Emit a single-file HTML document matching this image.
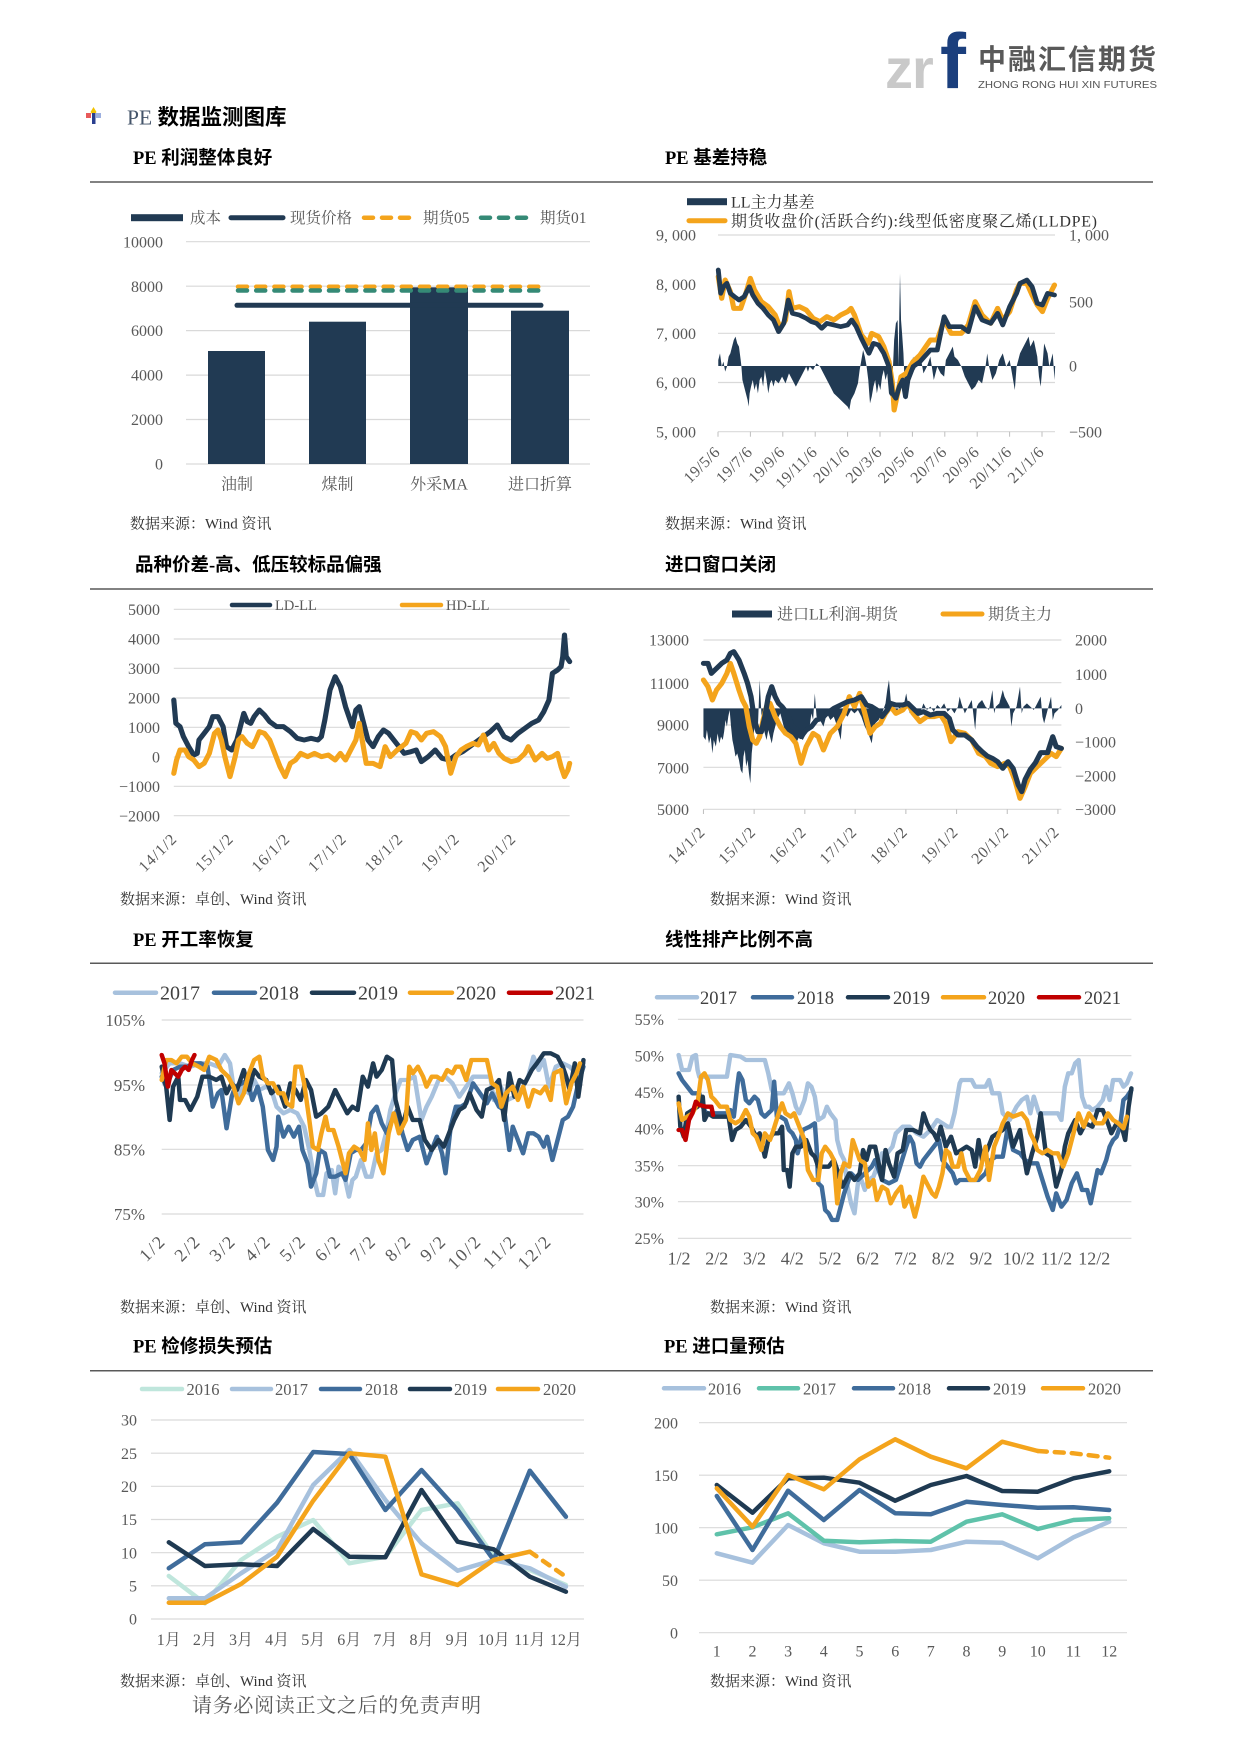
<!DOCTYPE html>
<html><head><meta charset="utf-8">
<style>
html,body{margin:0;padding:0;background:#fff;}
svg{display:block;}
.t{font-family:"Liberation Serif","Noto Serif CJK SC",serif;fill:#595959;}
.h{font-family:"Liberation Serif","Noto Sans CJK SC",sans-serif;font-weight:bold;fill:#000;font-size:18.5px;}
.src{font-family:"Liberation Serif","Noto Serif CJK SC",serif;fill:#333;font-size:15px;}
.g line{stroke:#d9d9d9;stroke-width:1.2;}
.gs line{stroke:#d9d9d9;stroke-width:3.5;}
.ln{fill:none;stroke-linejoin:round;stroke-linecap:round;}
</style></head>
<body>
<svg width="1240" height="1753" viewBox="0 0 1240 1753" xmlns="http://www.w3.org/2000/svg">
<rect width="1240" height="1753" fill="#fff"/>

<!-- Logo -->
<text x="885" y="88" font-family="Liberation Sans,sans-serif" font-weight="bold" font-size="56" fill="#c9c9c9" letter-spacing="-1">zr</text>
<text x="940" y="88" font-family="Liberation Sans,sans-serif" font-weight="bold" font-size="78" fill="#1b3f7d">f</text>
<text x="978" y="69" font-family="'Noto Sans CJK SC',sans-serif" font-weight="bold" font-size="28" fill="#595959" letter-spacing="2">中融汇信期货</text>
<text x="978" y="88" font-family="'Liberation Sans',sans-serif" font-size="10.5" fill="#555" textLength="179" lengthAdjust="spacingAndGlyphs">ZHONG RONG HUI XIN FUTURES</text>

<!-- Header -->
<path d="M93.5 107 L96.5 112 L93.5 116 L90.5 112Z" fill="#f2c200"/>
<rect x="86" y="113" width="5" height="5" fill="#e85a5a"/>
<rect x="96" y="113" width="5" height="5" fill="#9db0e0"/>
<rect x="92" y="113" width="3.5" height="11" fill="#2a3f8f"/>
<text x="127" y="124.5" font-size="21.5"><tspan font-family="'Liberation Serif',serif" fill="#44546a">PE</tspan><tspan font-family="'Liberation Serif','Noto Sans CJK SC',sans-serif" font-weight="bold" fill="#000"> 数据监测图库</tspan></text>

<!-- Section titles & rules -->
<text class="h" x="133" y="164">PE 利润整体良好</text>
<text class="h" x="665" y="164">PE 基差持稳</text>
<line x1="90" y1="182" x2="1153" y2="182" stroke="#595959" stroke-width="1.5"/>
<text class="h" x="135" y="571">品种价差-高、低压较标品偏强</text>
<text class="h" x="665" y="571">进口窗口关闭</text>
<line x1="90" y1="589" x2="1153" y2="589" stroke="#595959" stroke-width="1.5"/>
<text class="h" x="133" y="946">PE 开工率恢复</text>
<text class="h" x="665" y="946">线性排产比例不高</text>
<line x1="90" y1="963.3" x2="1153" y2="963.3" stroke="#595959" stroke-width="1.5"/>
<text class="h" x="133" y="1352.5">PE 检修损失预估</text>
<text class="h" x="664" y="1352.5">PE 进口量预估</text>
<line x1="90" y1="1370.7" x2="1153" y2="1370.7" stroke="#595959" stroke-width="1.5"/>

<!-- ============ Chart 1: bar ============ -->
<g class="g">
<line x1="186" y1="241.7" x2="590" y2="241.7"/><line x1="186" y1="286.2" x2="590" y2="286.2"/>
<line x1="186" y1="330.6" x2="590" y2="330.6"/><line x1="186" y1="375.1" x2="590" y2="375.1"/>
<line x1="186" y1="419.5" x2="590" y2="419.5"/><line x1="186" y1="464" x2="590" y2="464"/>
</g>
<g class="t" font-size="16" text-anchor="end">
<text x="163" y="247.3">10000</text><text x="163" y="291.8">8000</text><text x="163" y="336.2">6000</text>
<text x="163" y="380.7">4000</text><text x="163" y="425.1">2000</text><text x="163" y="469.6">0</text>
</g>
<g fill="#213a53">
<rect x="208" y="351" width="57" height="113"/>
<rect x="309" y="321.7" width="57" height="142.3"/>
<rect x="410" y="287.3" width="58" height="176.7"/>
<rect x="511" y="310.7" width="58" height="153.3"/>
</g>
<line class="ln" x1="237" y1="305.3" x2="541" y2="305.3" stroke="#213a53" stroke-width="5"/>
<line class="ln" x1="238" y1="286.7" x2="541" y2="286.7" stroke="#f4a41c" stroke-width="4.5" stroke-dasharray="9 9.2"/>
<line class="ln" x1="238" y1="290.5" x2="541" y2="290.5" stroke="#358a76" stroke-width="4.5" stroke-dasharray="9 9.2"/>
<g class="t" font-size="16" text-anchor="middle">
<text x="237" y="489.6">油制</text><text x="337.5" y="489.6">煤制</text><text x="439" y="489.6">外采MA</text><text x="540" y="489.6">进口折算</text>
</g>
<rect x="131" y="214.2" width="52" height="7" fill="#213a53"/>
<line class="ln" x1="231" y1="217.7" x2="283" y2="217.7" stroke="#213a53" stroke-width="5"/>
<line class="ln" x1="364" y1="217.7" x2="412" y2="217.7" stroke="#f4a41c" stroke-width="4.5" stroke-dasharray="9 9"/>
<line class="ln" x1="481" y1="217.7" x2="528" y2="217.7" stroke="#358a76" stroke-width="4.5" stroke-dasharray="9 9"/>
<g class="t" font-size="15.5">
<text x="190" y="223.2">成本</text><text x="290" y="223.2">现货价格</text><text x="423" y="223.2">期货05</text><text x="540" y="223.2">期货01</text>
</g>
<text class="src" x="130" y="528.5">数据来源：Wind 资讯</text>

<!-- ============ Chart 2: basis ============ -->
<g class="g">
<line x1="718" y1="235" x2="1055" y2="235"/><line x1="718" y1="284.2" x2="1055" y2="284.2"/>
<line x1="718" y1="333.3" x2="1055" y2="333.3"/><line x1="718" y1="382.5" x2="1055" y2="382.5"/>
<line x1="718" y1="431.7" x2="1055" y2="431.7"/>
</g>
<g stroke="#bfbfbf" stroke-width="1">
<line x1="718" y1="431.7" x2="718" y2="436.7"/><line x1="750.4" y1="431.7" x2="750.4" y2="436.7"/><line x1="782.8" y1="431.7" x2="782.8" y2="436.7"/>
<line x1="815.2" y1="431.7" x2="815.2" y2="436.7"/><line x1="847.6" y1="431.7" x2="847.6" y2="436.7"/><line x1="880" y1="431.7" x2="880" y2="436.7"/>
<line x1="912.4" y1="431.7" x2="912.4" y2="436.7"/><line x1="944.8" y1="431.7" x2="944.8" y2="436.7"/><line x1="977.2" y1="431.7" x2="977.2" y2="436.7"/>
<line x1="1009.6" y1="431.7" x2="1009.6" y2="436.7"/><line x1="1042" y1="431.7" x2="1042" y2="436.7"/>
</g>
<g class="t" font-size="16" text-anchor="end">
<text x="696" y="240.6">9, 000</text><text x="696" y="289.9">8, 000</text><text x="696" y="338.9">7, 000</text>
<text x="696" y="387.9">6, 000</text><text x="696" y="437.3">5, 000</text>
</g>
<g class="t" font-size="16">
<text x="1069" y="240.6">1, 000</text><text x="1069" y="307.3">500</text><text x="1069" y="371.6">0</text><text x="1069" y="437.3">−500</text>
</g>
<g class="t" font-size="16" text-anchor="end" letter-spacing="0.5">
<text transform="translate(721,453) rotate(-45)">19/5/6</text>
<text transform="translate(753.4,453) rotate(-45)">19/7/6</text>
<text transform="translate(785.8,453) rotate(-45)">19/9/6</text>
<text transform="translate(818.2,453) rotate(-45)">19/11/6</text>
<text transform="translate(850.6,453) rotate(-45)">20/1/6</text>
<text transform="translate(883,453) rotate(-45)">20/3/6</text>
<text transform="translate(915.4,453) rotate(-45)">20/5/6</text>
<text transform="translate(947.8,453) rotate(-45)">20/7/6</text>
<text transform="translate(980.2,453) rotate(-45)">20/9/6</text>
<text transform="translate(1012.6,453) rotate(-45)">20/11/6</text>
<text transform="translate(1045,453) rotate(-45)">21/1/6</text>
</g>
<g transform="translate(620,180) scale(0.34483,0.33333)">
<polygon fill="#213a53" points="285,558 285,540 290,520 295,560 300,545 305,575 310,560 315,530 320,520 325,500 330,480 335,470 340,490 345,500 350,540 352,558 355,600 360,620 365,640 370,660 373,680 376,640 380,620 385,600 390,630 395,610 400,640 405,600 410,590 415,620 420,570 425,600 430,640 435,610 440,600 445,620 450,600 460,610 470,590 480,610 490,580 500,600 510,620 520,600 530,580 540,560 545,575 550,560 560,570 570,550 580,560 590,580 600,600 610,620 620,640 630,650 640,660 650,670 660,680 665,690 670,660 680,640 690,610 695,570 700,540 705,510 710,530 715,558 720,600 725,670 730,650 735,620 740,600 745,640 750,610 755,630 760,590 765,570 770,600 775,580 780,640 785,650 790,600 795,480 800,430 805,420 808,560 810,400 812,280 815,420 818,460 822,520 825,600 828,660 832,640 835,580 840,590 845,560 850,530 855,570 860,550 870,520 880,580 890,560 900,530 910,600 920,560 930,580 940,590 945,540 955,520 965,500 970,530 980,540 990,560 1000,590 1010,610 1020,630 1030,620 1040,600 1050,610 1060,560 1065,520 1070,558 1080,600 1090,580 1100,540 1110,520 1120,560 1130,540 1140,600 1145,630 1150,560 1160,520 1170,500 1180,480 1185,470 1190,500 1200,480 1210,530 1215,590 1220,620 1225,560 1230,490 1240,520 1245,560 1250,540 1255,520 1260,600 1262,558"/>
<polyline class="ln" stroke="#f4a41c" stroke-width="15" points="285,290 295,355 305,300 320,335 330,385 350,385 365,340 378,295 390,330 410,365 430,380 450,405 465,445 480,420 490,335 500,385 520,380 540,390 560,415 580,425 600,410 620,420 640,405 660,395 670,385 680,405 700,465 720,490 730,460 750,470 765,500 780,545 790,610 795,690 805,640 815,590 830,580 850,545 870,525 900,480 920,480 940,420 960,460 990,460 1010,435 1030,365 1050,405 1075,430 1095,385 1110,420 1130,395 1150,330 1160,310 1180,310 1195,345 1210,375 1225,395 1240,355 1260,315"/>
<polyline class="ln" stroke="#213a53" stroke-width="14" points="285,270 292,340 300,320 310,310 320,340 332,350 345,360 360,350 375,320 385,345 400,370 415,385 430,405 445,420 460,455 475,430 488,360 500,400 520,405 540,415 555,425 570,430 585,445 600,430 620,435 640,440 660,435 672,420 685,440 700,475 712,500 722,520 735,490 750,495 765,520 780,560 790,640 800,655 810,620 820,600 828,650 835,600 850,560 870,545 900,510 920,510 940,410 955,440 970,440 990,440 1010,455 1030,380 1050,420 1075,430 1095,400 1110,435 1130,380 1150,340 1160,310 1180,300 1195,320 1210,370 1225,375 1240,340 1260,345"/>
</g>
<rect x="687" y="198.2" width="40" height="7" fill="#213a53"/>
<line class="ln" x1="689" y1="220.7" x2="725" y2="220.7" stroke="#f4a41c" stroke-width="5"/>
<g class="t" font-size="16" style="fill:#333">
<text x="731" y="207.3">LL主力基差</text>
<text x="731" y="226.3" textLength="366" lengthAdjust="spacing">期货收盘价(活跃合约):线型低密度聚乙烯(LLDPE)</text>
</g>
<text class="src" x="665" y="528.5">数据来源：Wind 资讯</text>

<!-- ============ Chart 3: spread ============ -->
<g transform="translate(80,540) scale(0.34483,0.33333)">
<g class="gs">
<line x1="272" y1="208" x2="1420" y2="208"/><line x1="272" y1="297" x2="1420" y2="297"/>
<line x1="272" y1="385" x2="1420" y2="385"/><line x1="272" y1="474" x2="1420" y2="474"/>
<line x1="272" y1="562" x2="1420" y2="562"/><line x1="272" y1="651" x2="1420" y2="651"/>
<line x1="272" y1="739" x2="1420" y2="739"/><line x1="272" y1="827" x2="1420" y2="827"/>
</g>
<polyline class="ln" stroke="#213a53" stroke-width="15" points="272,480 278,550 290,560 300,590 315,620 330,645 340,640 345,600 360,580 375,560 385,530 400,530 415,560 425,620 440,630 455,600 465,560 475,520 485,545 495,550 505,530 520,510 535,525 550,545 570,560 590,560 610,575 630,595 650,600 670,595 690,600 700,590 710,540 725,450 740,410 755,440 770,500 790,560 800,510 810,500 820,540 835,600 850,620 865,590 880,570 895,580 910,600 925,620 940,640 960,635 975,630 990,665 1010,650 1030,630 1050,655 1070,660 1090,645 1110,635 1130,620 1150,605 1170,590 1190,575 1210,555 1230,590 1250,600 1270,580 1290,565 1310,550 1330,540 1345,515 1360,480 1370,400 1385,390 1395,380 1400,350 1405,285 1410,350 1420,365"/>
<polyline class="ln" stroke="#f4a41c" stroke-width="15" points="272,700 280,660 290,630 305,630 315,650 330,660 345,680 360,670 375,640 390,580 400,570 410,600 420,650 435,710 450,650 460,600 470,590 485,610 500,620 510,600 520,575 535,580 550,600 565,640 580,680 595,710 610,670 625,660 640,640 660,650 680,640 700,650 720,645 740,660 755,640 770,660 785,630 800,600 810,550 820,610 830,670 850,670 870,680 885,620 900,650 920,630 945,610 960,575 975,580 990,600 1005,580 1025,575 1045,590 1060,620 1075,700 1090,650 1105,630 1120,620 1140,610 1155,615 1170,585 1185,630 1200,610 1215,640 1230,655 1250,665 1270,660 1290,640 1300,620 1320,660 1340,640 1355,655 1370,650 1385,640 1395,680 1405,710 1415,690 1420,670"/>
</g>
<g class="t" font-size="16" text-anchor="end">
<text x="160" y="614.9">5000</text><text x="160" y="644.6">4000</text><text x="160" y="673.9">3000</text>
<text x="160" y="703.6">2000</text><text x="160" y="732.9">1000</text><text x="160" y="762.6">0</text>
<text x="160" y="791.9">−1000</text><text x="160" y="821.3">−2000</text>
</g>
<g class="t" font-size="16" text-anchor="end" letter-spacing="1">
<text transform="translate(178,839.7) rotate(-45)">14/1/2</text>
<text transform="translate(234.5,839.7) rotate(-45)">15/1/2</text>
<text transform="translate(291,839.7) rotate(-45)">16/1/2</text>
<text transform="translate(347.5,839.7) rotate(-45)">17/1/2</text>
<text transform="translate(404,839.7) rotate(-45)">18/1/2</text>
<text transform="translate(460.5,839.7) rotate(-45)">19/1/2</text>
<text transform="translate(517,839.7) rotate(-45)">20/1/2</text>
</g>
<line class="ln" x1="232" y1="605" x2="270" y2="605" stroke="#213a53" stroke-width="4.5"/>
<line class="ln" x1="402" y1="605" x2="441" y2="605" stroke="#f4a41c" stroke-width="4.5"/>
<g class="t" font-size="14.5"><text x="275" y="610">LD-LL</text><text x="446" y="610">HD-LL</text></g>
<text class="src" x="120" y="904">数据来源：卓创、Wind 资讯</text>

<!-- ============ Chart 4: import window ============ -->
<g transform="translate(620,540) scale(0.34483,0.33333)">
<g class="gs">
<line x1="242" y1="300" x2="1280" y2="300"/><line x1="242" y1="428" x2="1280" y2="428"/>
<line x1="242" y1="555" x2="1280" y2="555"/><line x1="242" y1="682" x2="1280" y2="682"/>
<line x1="242" y1="808" x2="1280" y2="808"/>
</g>
<g stroke="#bfbfbf" stroke-width="3">
<line x1="242" y1="808" x2="242" y2="822"/><line x1="389" y1="808" x2="389" y2="822"/><line x1="536" y1="808" x2="536" y2="822"/>
<line x1="682" y1="808" x2="682" y2="822"/><line x1="829" y1="808" x2="829" y2="822"/><line x1="976" y1="808" x2="976" y2="822"/>
<line x1="1123" y1="808" x2="1123" y2="822"/><line x1="1270" y1="808" x2="1270" y2="822"/>
</g>
<polygon fill="#213a53" points="242,505 242,590 248,600 252,570 258,610 263,590 268,640 272,600 278,620 283,580 288,610 293,590 298,600 302,575 306,540 310,560 314,530 318,510 322,560 326,600 330,620 335,650 340,640 345,660 350,690 355,700 358,650 362,630 366,680 370,660 374,700 378,730 382,640 386,600 390,560 395,540 400,560 405,420 410,520 415,560 420,580 425,600 430,570 435,590 440,610 445,580 450,560 455,540 460,530 465,520 470,540 475,560 480,580 490,590 500,600 510,610 520,590 530,600 540,580 550,560 555,520 560,540 565,460 570,530 580,540 590,560 600,520 610,540 620,530 630,560 640,600 645,540 650,520 660,530 670,510 680,520 690,510 700,530 710,560 720,580 730,610 735,570 740,550 750,540 760,520 770,490 775,450 780,420 785,480 790,500 800,520 810,500 820,510 830,460 840,520 850,500 860,510 870,520 880,490 890,510 900,500 910,515 920,495 930,505 940,490 950,515 960,505 970,520 980,500 985,470 990,490 1000,520 1010,500 1020,480 1030,570 1035,500 1040,490 1050,480 1060,500 1070,510 1080,450 1085,520 1090,500 1100,490 1110,450 1115,470 1120,480 1130,500 1135,560 1140,520 1150,500 1160,440 1165,520 1170,500 1180,490 1190,500 1200,510 1210,490 1220,470 1225,530 1230,550 1240,510 1250,470 1255,540 1260,520 1270,510 1280,495 1280,505"/>
<polyline class="ln" stroke="#f4a41c" stroke-width="15" points="242,420 255,440 268,480 280,450 295,430 310,400 320,370 330,400 345,450 355,480 365,500 375,560 385,600 395,610 405,590 415,540 425,500 435,490 450,530 465,560 480,580 495,590 510,610 525,670 540,620 560,580 575,590 590,630 610,580 630,560 650,520 665,470 680,500 695,460 710,520 725,580 740,560 755,550 770,520 785,500 800,520 820,510 835,490 850,520 870,545 890,530 910,530 930,525 945,550 960,605 980,575 1000,580 1020,600 1040,640 1060,650 1075,670 1095,680 1115,670 1130,680 1145,720 1160,775 1175,740 1190,700 1210,680 1230,660 1250,640 1265,650 1280,625"/>
<polyline class="ln" stroke="#213a53" stroke-width="15" points="242,370 255,370 265,400 280,385 295,370 310,360 320,340 330,335 345,360 360,400 370,430 380,470 390,540 400,575 410,575 420,530 430,470 440,440 450,470 460,490 470,500 485,520 500,560 515,570 525,590 540,570 555,560 570,540 585,535 600,520 620,505 640,495 660,485 680,480 700,470 715,495 730,500 745,510 760,530 775,510 785,490 800,495 820,495 835,490 850,505 865,520 880,515 900,525 920,520 940,520 955,535 965,570 980,585 1000,585 1020,600 1035,620 1050,635 1065,648 1080,655 1095,665 1110,685 1125,665 1140,685 1155,735 1165,755 1175,718 1190,688 1205,668 1220,638 1240,638 1255,590 1265,620 1280,625"/>
</g>
<g class="t" font-size="16" text-anchor="end">
<text x="689" y="645.6">13000</text><text x="689" y="688.9">11000</text><text x="689" y="730.6">9000</text>
<text x="689" y="773.3">7000</text><text x="689" y="814.9">5000</text>
</g>
<g class="t" font-size="16">
<text x="1075" y="645.6">2000</text><text x="1075" y="679.9">1000</text><text x="1075" y="713.9">0</text>
<text x="1075" y="747.3">−1000</text><text x="1075" y="781.3">−2000</text><text x="1075" y="814.9">−3000</text>
</g>
<g class="t" font-size="16" text-anchor="end" letter-spacing="0.7">
<text transform="translate(706,833) rotate(-45)">14/1/2</text>
<text transform="translate(756.6,833) rotate(-45)">15/1/2</text>
<text transform="translate(807.2,833) rotate(-45)">16/1/2</text>
<text transform="translate(857.8,833) rotate(-45)">17/1/2</text>
<text transform="translate(908.4,833) rotate(-45)">18/1/2</text>
<text transform="translate(959,833) rotate(-45)">19/1/2</text>
<text transform="translate(1009.6,833) rotate(-45)">20/1/2</text>
<text transform="translate(1060.2,833) rotate(-45)">21/1/2</text>
</g>
<rect x="732" y="610.5" width="40" height="7" fill="#213a53"/>
<line class="ln" x1="943" y1="614" x2="982" y2="614" stroke="#f4a41c" stroke-width="5"/>
<g class="t" font-size="16"><text x="777" y="619.6">进口LL利润-期货</text><text x="988" y="619.6">期货主力</text></g>
<text class="src" x="710" y="904">数据来源：Wind 资讯</text>

<!-- ============ Chart 5: operating rate ============ -->
<g transform="translate(80,920) scale(0.34483,0.33333)">
<g class="gs">
<line x1="237" y1="300" x2="1460" y2="300"/><line x1="237" y1="495" x2="1460" y2="495"/>
<line x1="237" y1="688" x2="1460" y2="688"/><line x1="237" y1="882" x2="1460" y2="882"/>
</g>
<polyline class="ln" stroke="#a7c1dd" stroke-width="13" points="237,460 260,430 290,430 320,440 350,430 375,430 400,440 420,405 435,430 445,500 460,540 470,500 490,520 505,480 520,510 540,500 555,510 570,560 590,580 610,570 630,580 650,620 665,690 680,780 690,825 705,825 715,760 730,750 740,820 750,740 765,760 780,830 790,780 800,770 815,720 830,770 845,770 860,700 875,690 890,630 900,570 915,520 930,480 950,480 970,470 990,600 1005,560 1020,530 1040,480 1060,470 1080,490 1100,530 1120,500 1140,470 1170,470 1190,470 1200,540 1220,500 1240,540 1260,530 1280,510 1300,470 1315,410 1330,450 1345,420 1360,500 1380,440 1400,430 1420,440 1440,460 1460,430"/>
<polyline class="ln" stroke="#3f6c9b" stroke-width="13" points="237,470 250,500 270,450 290,440 310,440 330,430 350,430 370,440 385,560 400,520 410,510 425,625 440,530 450,500 470,490 485,480 500,540 515,500 530,560 545,690 560,720 570,680 575,590 590,650 605,620 620,650 635,620 645,690 660,730 670,800 685,760 695,690 710,700 725,770 740,770 760,760 770,780 785,700 800,690 815,690 830,670 845,580 860,560 875,610 890,640 905,600 920,570 935,640 950,690 965,660 985,650 1005,730 1020,690 1035,650 1050,700 1060,760 1075,620 1090,560 1105,560 1120,550 1140,490 1160,520 1180,550 1195,520 1215,560 1230,570 1245,690 1255,620 1270,660 1285,700 1300,640 1315,640 1330,650 1345,680 1355,650 1370,720 1385,660 1400,600 1415,590 1430,560 1445,490 1460,440"/>
<polyline class="ln" stroke="#1f3a52" stroke-width="13" points="237,440 250,500 260,600 270,500 285,470 290,540 305,540 320,570 340,530 355,470 375,470 395,480 410,470 425,520 440,490 455,510 475,450 490,510 505,450 520,470 540,480 555,520 575,500 595,560 610,490 625,510 640,540 655,480 670,510 685,590 700,580 720,560 740,510 760,550 775,580 790,560 805,570 820,470 835,500 850,430 860,470 875,450 890,410 905,420 915,540 935,620 950,560 965,600 985,600 1000,660 1020,690 1040,660 1055,680 1070,640 1085,600 1100,570 1115,560 1130,520 1150,570 1165,590 1180,510 1200,500 1215,480 1230,600 1245,460 1260,530 1275,480 1290,490 1310,450 1325,430 1345,400 1365,400 1385,410 1400,440 1410,470 1420,510 1435,430 1445,530 1460,420"/>
<polyline class="ln" stroke="#f4a41c" stroke-width="13" points="237,480 250,420 265,420 280,430 295,410 310,410 325,430 345,440 360,450 375,410 395,420 410,450 430,470 445,500 460,550 475,520 490,460 505,420 520,410 530,470 545,490 560,490 575,520 590,520 600,550 615,560 625,440 640,440 650,490 665,600 675,680 690,690 700,640 712,590 720,630 735,630 750,680 760,720 770,760 780,700 795,680 810,690 825,720 835,610 845,690 855,640 865,720 880,760 895,640 910,580 925,640 945,600 955,440 965,460 980,440 995,470 1005,500 1020,470 1035,470 1050,480 1065,450 1080,460 1090,440 1105,440 1120,480 1135,420 1160,420 1180,420 1195,490 1210,500 1222,560 1235,520 1255,500 1270,540 1285,500 1300,560 1315,510 1335,520 1350,500 1365,540 1375,460 1395,450 1410,550 1425,490 1440,460 1450,430"/>
<polyline class="ln" stroke="#c00000" stroke-width="13" points="237,405 245,430 255,500 265,450 275,460 285,470 295,450 305,440 315,450 325,420 332,405"/>
</g>
<g class="t" font-size="17" text-anchor="end">
<text x="145" y="1026">105%</text><text x="145" y="1091">95%</text><text x="145" y="1155.3">85%</text><text x="145" y="1220">75%</text>
</g>
<g class="t" font-size="18" text-anchor="end" letter-spacing="2">
<text transform="translate(167,1242) rotate(-45)">1/2</text>
<text transform="translate(202.1,1242) rotate(-45)">2/2</text>
<text transform="translate(237.2,1242) rotate(-45)">3/2</text>
<text transform="translate(272.3,1242) rotate(-45)">4/2</text>
<text transform="translate(307.4,1242) rotate(-45)">5/2</text>
<text transform="translate(342.5,1242) rotate(-45)">6/2</text>
<text transform="translate(377.6,1242) rotate(-45)">7/2</text>
<text transform="translate(412.7,1242) rotate(-45)">8/2</text>
<text transform="translate(447.8,1242) rotate(-45)">9/2</text>
<text transform="translate(482.9,1242) rotate(-45)">10/2</text>
<text transform="translate(518,1242) rotate(-45)">11/2</text>
<text transform="translate(553.1,1242) rotate(-45)">12/2</text>
</g>
<g class="ln" stroke-width="4.5">
<line x1="115" y1="992.7" x2="156" y2="992.7" stroke="#a7c1dd"/>
<line x1="214" y1="992.7" x2="255" y2="992.7" stroke="#3f6c9b"/>
<line x1="312" y1="992.7" x2="354" y2="992.7" stroke="#1f3a52"/>
<line x1="410" y1="992.7" x2="452" y2="992.7" stroke="#f4a41c"/>
<line x1="509" y1="992.7" x2="551" y2="992.7" stroke="#c00000"/>
</g>
<g class="t" font-size="20" style="fill:#404040">
<text x="160" y="999.7">2017</text><text x="259" y="999.7">2018</text><text x="358" y="999.7">2019</text><text x="456" y="999.7">2020</text><text x="555" y="999.7">2021</text>
</g>
<text class="src" x="120" y="1312">数据来源：卓创、Wind 资讯</text>

<!-- ============ Chart 6: linear ratio ============ -->
<g transform="translate(620,920) scale(0.34483,0.33333)">
<g class="gs">
<line x1="168" y1="298" x2="1483" y2="298"/><line x1="168" y1="407" x2="1483" y2="407"/>
<line x1="168" y1="517" x2="1483" y2="517"/><line x1="168" y1="627" x2="1483" y2="627"/>
<line x1="168" y1="737" x2="1483" y2="737"/><line x1="168" y1="845" x2="1483" y2="845"/>
<line x1="168" y1="955" x2="1483" y2="955"/>
</g>
<polyline class="ln" stroke="#a7c1dd" stroke-width="13" points="170,405 180,450 200,450 210,410 220,405 225,450 230,470 250,470 280,470 310,470 320,405 350,410 365,420 390,420 420,420 430,460 440,510 455,520 475,520 490,490 500,520 510,560 520,580 535,540 545,490 555,500 565,530 575,600 590,590 600,560 610,580 625,600 630,660 640,700 650,720 660,800 670,850 680,880 690,790 700,780 710,810 720,780 735,770 760,700 775,700 790,680 800,640 820,620 840,620 860,640 880,650 900,630 920,600 935,610 950,620 960,620 970,580 985,490 990,480 1020,480 1030,500 1060,500 1070,480 1080,520 1100,520 1110,580 1130,600 1150,560 1165,540 1180,530 1190,580 1200,530 1215,580 1240,580 1270,580 1280,600 1290,500 1300,460 1310,460 1320,430 1330,420 1340,530 1350,560 1360,560 1370,570 1385,560 1400,540 1410,500 1420,540 1430,480 1450,480 1460,500 1470,490 1482,460"/>
<polyline class="ln" stroke="#3f6c9b" stroke-width="13" points="170,460 180,480 195,500 210,520 230,520 240,560 250,580 270,580 310,580 320,570 330,590 340,500 345,460 355,480 365,540 375,550 390,530 400,540 410,580 420,590 430,580 440,570 447,485 455,590 465,590 480,600 490,630 500,640 510,660 515,700 520,680 530,630 550,620 565,610 570,680 575,790 585,800 595,870 605,880 615,900 630,900 640,860 650,820 660,790 670,760 690,780 710,760 730,740 740,720 760,780 780,790 800,780 815,730 830,680 840,650 850,670 860,730 870,740 880,720 895,700 910,680 925,660 935,720 950,740 965,760 975,790 985,780 1000,780 1040,780 1060,760 1075,720 1090,710 1110,710 1125,620 1140,690 1160,700 1175,720 1190,730 1210,730 1225,780 1240,830 1255,870 1265,820 1280,860 1295,840 1310,790 1325,760 1340,810 1355,810 1365,850 1375,800 1385,750 1395,760 1410,720 1420,680 1430,660 1440,650 1450,620 1460,540 1470,530 1483,510"/>
<polyline class="ln" stroke="#1f3a52" stroke-width="13" points="170,530 175,620 185,650 195,580 210,570 225,560 240,530 245,600 255,580 270,590 300,590 315,590 325,660 335,630 350,620 365,600 380,620 395,650 405,640 420,710 430,660 445,640 460,640 470,620 475,750 485,750 492,800 500,700 510,680 525,680 540,660 555,700 565,710 575,740 590,740 605,740 620,720 630,750 645,800 655,780 665,760 680,780 695,760 705,690 715,720 725,680 740,680 750,730 760,780 770,690 780,730 795,770 805,700 820,690 830,630 850,630 870,640 880,580 890,610 900,630 910,640 920,660 930,620 945,680 960,650 975,700 990,690 1005,680 1020,690 1030,740 1040,660 1050,720 1065,690 1080,650 1095,640 1110,630 1125,610 1140,680 1160,630 1170,700 1180,760 1195,700 1210,650 1220,580 1235,700 1250,710 1265,800 1280,750 1290,680 1300,640 1320,600 1335,640 1350,610 1370,620 1385,570 1400,570 1415,610 1425,640 1440,610 1455,620 1465,660 1475,560 1483,505"/>
<polyline class="ln" stroke="#f4a41c" stroke-width="13" points="170,550 180,600 195,590 210,580 225,550 235,470 245,460 255,480 265,530 275,540 290,560 310,560 320,600 335,610 350,600 365,570 375,590 385,640 395,650 410,690 420,640 435,660 445,630 460,580 470,550 480,580 495,590 505,580 520,620 535,660 545,750 560,780 575,780 585,700 595,680 610,700 620,720 630,850 640,760 650,730 665,740 675,660 685,690 695,720 710,730 720,800 735,780 745,840 760,800 775,810 785,850 800,820 815,800 825,860 840,830 855,890 865,850 880,770 895,800 905,820 915,830 925,800 935,760 945,690 955,700 965,740 980,740 990,700 1000,750 1015,780 1030,780 1045,750 1060,680 1070,780 1085,680 1100,640 1110,610 1125,580 1140,590 1165,580 1180,600 1190,640 1200,660 1210,690 1225,700 1240,690 1255,700 1270,700 1285,740 1300,700 1315,640 1330,580 1345,620 1360,580 1380,610 1400,610 1415,580 1430,600 1445,610 1460,625 1470,590"/>
<polyline class="ln" stroke="#c00000" stroke-width="13" points="170,630 180,630 190,660 200,600 210,580 220,545 230,555 250,560 265,560 270,585"/>
</g>
<g class="t" font-size="16" text-anchor="end">
<text x="664" y="1024.9">55%</text><text x="664" y="1061.3">50%</text><text x="664" y="1097.9">45%</text>
<text x="664" y="1134.6">40%</text><text x="664" y="1171.3">35%</text><text x="664" y="1207.3">30%</text><text x="664" y="1243.9">25%</text>
</g>
<g class="t" font-size="18" text-anchor="middle">
<text x="679" y="1264.5">1/2</text><text x="716.8" y="1264.5">2/2</text><text x="754.5" y="1264.5">3/2</text>
<text x="792.3" y="1264.5">4/2</text><text x="830" y="1264.5">5/2</text><text x="867.8" y="1264.5">6/2</text>
<text x="905.5" y="1264.5">7/2</text><text x="943.3" y="1264.5">8/2</text><text x="981" y="1264.5">9/2</text>
<text x="1018.8" y="1264.5">10/2</text><text x="1056.5" y="1264.5">11/2</text><text x="1094.3" y="1264.5">12/2</text>
</g>
<g class="ln" stroke-width="4.5">
<line x1="657" y1="997.3" x2="697" y2="997.3" stroke="#a7c1dd"/>
<line x1="753" y1="997.3" x2="792" y2="997.3" stroke="#3f6c9b"/>
<line x1="848" y1="997.3" x2="888" y2="997.3" stroke="#1f3a52"/>
<line x1="943" y1="997.3" x2="984" y2="997.3" stroke="#f4a41c"/>
<line x1="1039" y1="997.3" x2="1079" y2="997.3" stroke="#c00000"/>
</g>
<g class="t" font-size="18.5" style="fill:#404040">
<text x="700" y="1003.8">2017</text><text x="797" y="1003.8">2018</text><text x="893" y="1003.8">2019</text><text x="988" y="1003.8">2020</text><text x="1084" y="1003.8">2021</text>
</g>
<text class="src" x="710" y="1312">数据来源：Wind 资讯</text>

<!-- ============ Chart 7: maintenance ============ -->
<g class="g">
<line x1="151" y1="1420" x2="584" y2="1420"/><line x1="151" y1="1453.2" x2="584" y2="1453.2"/>
<line x1="151" y1="1486.3" x2="584" y2="1486.3"/><line x1="151" y1="1519.5" x2="584" y2="1519.5"/>
<line x1="151" y1="1552.7" x2="584" y2="1552.7"/><line x1="151" y1="1585.8" x2="584" y2="1585.8"/>
<line x1="151" y1="1619" x2="584" y2="1619"/>
</g>
<g class="t" font-size="16" text-anchor="end">
<text x="137" y="1425.6">30</text><text x="137" y="1458.8">25</text><text x="137" y="1491.9">20</text>
<text x="137" y="1525.1">15</text><text x="137" y="1558.3">10</text><text x="137" y="1591.4">5</text><text x="137" y="1624.6">0</text>
</g>
<g class="t" font-size="16" text-anchor="middle">
<text x="168.8" y="1645">1月</text><text x="204.9" y="1645">2月</text><text x="241" y="1645">3月</text>
<text x="277.1" y="1645">4月</text><text x="313.2" y="1645">5月</text><text x="349.3" y="1645">6月</text>
<text x="385.4" y="1645">7月</text><text x="421.5" y="1645">8月</text><text x="457.6" y="1645">9月</text>
<text x="493.7" y="1645">10月</text><text x="529.8" y="1645">11月</text><text x="565.9" y="1645">12月</text>
</g>
<g class="ln" stroke-width="4.5">
<polyline stroke="#bfe6dc" points="168.8,1576 204.9,1603.3 241,1560 277.1,1536.7 313.2,1520 349.3,1563.3 385.4,1556.7 421.5,1510 457.6,1503.3 493.7,1556.7 529.8,1570 565.9,1585"/>
<polyline stroke="#a7c1dd" points="168.8,1598.3 204.9,1598.3 241,1573.3 277.1,1550 313.2,1485 349.3,1450 385.4,1500 421.5,1543.3 457.6,1570.7 493.7,1560 529.8,1568.3 565.9,1586.7"/>
<polyline stroke="#3f6c9b" points="168.8,1568.3 204.9,1544.3 241,1542.3 277.1,1502.7 313.2,1452 349.3,1454 385.4,1510 421.5,1470 457.6,1510 493.7,1560 529.8,1470.7 565.9,1516.7"/>
<polyline stroke="#1f3a52" points="168.8,1542.3 204.9,1566 241,1564.3 277.1,1566 313.2,1529 349.3,1556.7 385.4,1557.3 421.5,1490 457.6,1541.7 493.7,1549.3 529.8,1576.7 565.9,1591.7"/>
<polyline stroke="#f4a41c" points="168.8,1602.7 204.9,1602.7 241,1584 277.1,1556.7 313.2,1500.7 349.3,1453.3 385.4,1456.7 421.5,1574.3 457.6,1585 493.7,1560 529.8,1551.7"/>
<line x1="529.8" y1="1551.7" x2="565.9" y2="1576.7" stroke="#f4a41c" stroke-dasharray="8 8"/>
</g>
<g class="ln" stroke-width="4.5">
<line x1="142" y1="1389" x2="182" y2="1389" stroke="#bfe6dc"/>
<line x1="232" y1="1389" x2="271" y2="1389" stroke="#a7c1dd"/>
<line x1="321" y1="1389" x2="360" y2="1389" stroke="#3f6c9b"/>
<line x1="410" y1="1389" x2="450" y2="1389" stroke="#1f3a52"/>
<line x1="498" y1="1389" x2="538" y2="1389" stroke="#f4a41c"/>
</g>
<g class="t" font-size="16.5">
<text x="186.5" y="1395">2016</text><text x="275" y="1395">2017</text><text x="365" y="1395">2018</text><text x="454" y="1395">2019</text><text x="543" y="1395">2020</text>
</g>
<text class="src" x="120" y="1686">数据来源：卓创、Wind 资讯</text>
<text x="192" y="1712" font-family="'Liberation Serif','Noto Serif CJK SC',serif" font-size="20" fill="#595959" letter-spacing="0.7">请务必阅读正文之后的免责声明</text>

<!-- ============ Chart 8: import volume ============ -->
<g class="g">
<line x1="699" y1="1422.7" x2="1127" y2="1422.7"/><line x1="699" y1="1475.2" x2="1127" y2="1475.2"/>
<line x1="699" y1="1527.7" x2="1127" y2="1527.7"/><line x1="699" y1="1580.2" x2="1127" y2="1580.2"/>
<line x1="699" y1="1632.7" x2="1127" y2="1632.7"/>
</g>
<g class="t" font-size="16" text-anchor="end">
<text x="678" y="1428.3">200</text><text x="678" y="1480.8">150</text><text x="678" y="1533.3">100</text>
<text x="678" y="1585.8">50</text><text x="678" y="1638.3">0</text>
</g>
<g class="t" font-size="16" text-anchor="middle">
<text x="716.8" y="1656.5">1</text><text x="752.5" y="1656.5">2</text><text x="788.1" y="1656.5">3</text>
<text x="823.8" y="1656.5">4</text><text x="859.5" y="1656.5">5</text><text x="895.2" y="1656.5">6</text>
<text x="930.8" y="1656.5">7</text><text x="966.5" y="1656.5">8</text><text x="1002.2" y="1656.5">9</text>
<text x="1037.8" y="1656.5">10</text><text x="1073.5" y="1656.5">11</text><text x="1109.2" y="1656.5">12</text>
</g>
<g class="ln" stroke-width="4.5">
<polyline stroke="#a7c1dd" points="716.8,1553.3 752.5,1562.7 788.1,1525 823.8,1543.3 859.5,1551.7 895.2,1551.7 930.8,1550 966.5,1541.7 1002.2,1542.7 1037.8,1558.3 1073.5,1537.3 1109.2,1521.7"/>
<polyline stroke="#5fc2aa" points="716.8,1534.3 752.5,1527.3 788.1,1513.3 823.8,1540.7 859.5,1542.3 895.2,1541 930.8,1541.7 966.5,1521.7 1002.2,1514.3 1037.8,1529 1073.5,1520 1109.2,1518.3"/>
<polyline stroke="#3f6c9b" points="716.8,1496 752.5,1550 788.1,1490.7 823.8,1520 859.5,1490 895.2,1513.3 930.8,1514.3 966.5,1501.7 1002.2,1505 1037.8,1507.7 1073.5,1507.3 1109.2,1510"/>
<polyline stroke="#1f3a52" points="716.8,1485 752.5,1512.7 788.1,1478.3 823.8,1477.7 859.5,1482.7 895.2,1500.7 930.8,1485 966.5,1476 1002.2,1491 1037.8,1491.7 1073.5,1478.3 1109.2,1471.3"/>
<polyline stroke="#f4a41c" points="716.8,1488.3 752.5,1526.7 788.1,1475 823.8,1489.3 859.5,1459.3 895.2,1439.3 930.8,1456.7 966.5,1468.3 1002.2,1441.7 1037.8,1451"/>
<polyline stroke="#f4a41c" stroke-dasharray="9 8" points="1037.8,1451 1073.5,1453.3 1109.2,1457.7"/>
</g>
<g class="ln" stroke-width="4.5">
<line x1="664" y1="1388.3" x2="704" y2="1388.3" stroke="#a7c1dd"/>
<line x1="759" y1="1388.3" x2="798" y2="1388.3" stroke="#5fc2aa"/>
<line x1="854" y1="1388.3" x2="893" y2="1388.3" stroke="#3f6c9b"/>
<line x1="949" y1="1388.3" x2="988" y2="1388.3" stroke="#1f3a52"/>
<line x1="1043" y1="1388.3" x2="1083" y2="1388.3" stroke="#f4a41c"/>
</g>
<g class="t" font-size="16.5">
<text x="708" y="1394.3">2016</text><text x="803" y="1394.3">2017</text><text x="898" y="1394.3">2018</text><text x="993" y="1394.3">2019</text><text x="1088" y="1394.3">2020</text>
</g>
<text class="src" x="710" y="1686">数据来源：Wind 资讯</text>

</svg>
</body></html>
